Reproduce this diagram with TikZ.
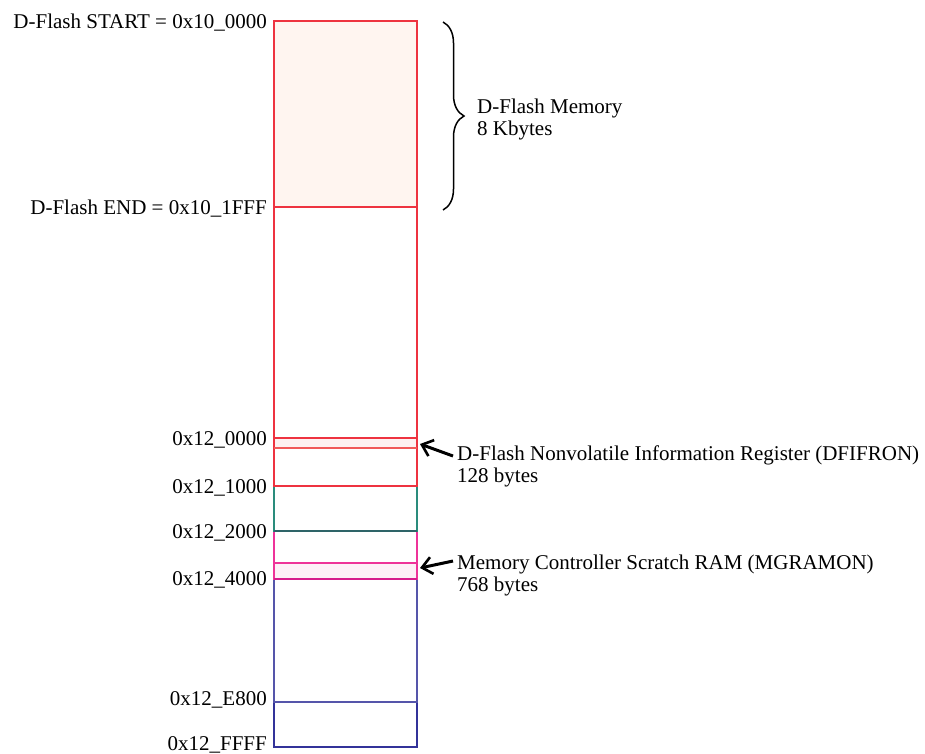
\documentclass[tikz,border=0pt]{standalone}
\usepackage{fontspec}
\setmainfont{Liberation Serif}
\usetikzlibrary{arrows.meta,decorations.pathreplacing}
\definecolor{mred}{HTML}{EE3340}
\definecolor{mredl}{HTML}{F05A5A}
\definecolor{mteal}{HTML}{2A8C7C}
\definecolor{mteald}{HTML}{2E6468}
\definecolor{mmag}{HTML}{EE3399}
\definecolor{mmagd}{HTML}{D61C8C}
\definecolor{mblue}{HTML}{5555AA}
\definecolor{mblued}{HTML}{333399}
\definecolor{peach}{HTML}{FFF5F0}
\definecolor{pinkband}{HTML}{FDF2F2}
\definecolor{magband}{HTML}{FDF0F7}
\begin{document}
\begin{tikzpicture}[x=1pt,y=-1pt,font=\fontsize{21}{22}\selectfont,
  seg/.style={draw,line width=1.7pt,minimum width=143pt,inner sep=0pt,outer sep=0pt,anchor=north west},
  addr/.style={anchor=base east,inner sep=0pt},
  note/.style={anchor=west,align=left,inner sep=0pt},
  ptr/.style={-{Straight Barb[length=10pt,width=17pt,line width=2.6pt]},line width=3pt}]
\useasboundingbox (0,0) rectangle (925,753);
% memory segments, drawn bottom to top
\node[seg,draw=mblued,minimum height=45pt] (blue2) at (274,702) {};
\node[seg,draw=mblue,minimum height=123pt] (blue1) at (274,579) {};
\node[seg,draw=mmag,fill=magband,minimum height=16pt] (mgramon) at (274,563) {};
\draw[mmagd,line width=1.7pt] (mgramon.south west) -- (mgramon.south east);
\node[seg,draw=mmag,minimum height=32pt] (mag1) at (274,531) {};
\node[seg,draw=mteal,minimum height=45pt] (teal) at (274,486) {};
\draw[mteald,line width=1.7pt] (teal.south west) -- (teal.south east);
\node[seg,draw=mred,minimum height=38pt] (gap2) at (274,448) {};
\node[seg,draw=mred,fill=pinkband,minimum height=10pt] (dfifron) at (274,438) {};
\draw[mredl,line width=1.7pt] (dfifron.south west) -- (dfifron.south east);
\node[seg,draw=mred,minimum height=231pt] (gap1) at (274,207) {};
\node[seg,draw=mred,fill=peach,minimum height=186pt] (dflash) at (274,21) {};
% address labels
\node[addr] (aStart) at (267,28) {D-Flash START = 0x10\_0000};
\node[addr] (aEnd) at (267,214) {D-Flash END = 0x10\_1FFF};
\node[addr] (a0) at (267,445) {0x12\_0000};
\node[addr] (a1) at (267,493) {0x12\_1000};
\node[addr] (a2) at (267,538) {0x12\_2000};
\node[addr] (a4) at (267,585) {0x12\_4000};
\node[addr] (aE) at (267,705) {0x12\_E800};
\node[addr] (aF) at (267,750) {0x12\_FFFF};
% brace
\coordinate (bTop) at (443,22);
\coordinate (bBot) at (443,210);
\draw[decorate,decoration={brace,amplitude=21pt},line width=1.5pt] (bTop) -- (bBot);
\node[note] (memlab) at (477,119) {D-Flash Memory\\8 Kbytes};
% pointers
\node[note] (dfilab) at (457,466) {D-Flash Nonvolatile Information Register (DFIFRON)\\128 bytes};
\node[note] (mgrlab) at (457,575) {Memory Controller Scratch RAM (MGRAMON)\\768 bytes};
\coordinate (t1) at (453,456);
\coordinate (t2) at (453,561);
\draw[ptr] (t1) -- ([xshift=3pt,yshift=-1pt]dfifron.east);
\draw[ptr] (t2) -- ([xshift=3pt,yshift=3pt]mgramon.east);
\end{tikzpicture}
\end{document}
